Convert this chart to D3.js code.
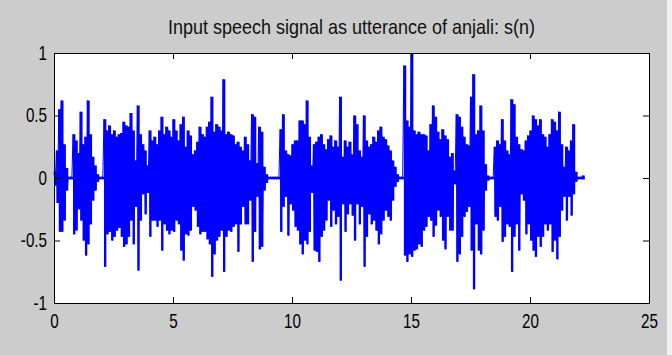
<!DOCTYPE html>
<html>
<head>
<meta charset="utf-8">
<script src="https://cdn.jsdelivr.net/npm/d3@7"></script>
<style>
  html, body { margin: 0; padding: 0; background: #cccccc; }
  svg { display: block; }
</style>
</head>
<body>
<script>
// chart text and ticks
const chartTitle = "Input speech signal as utterance of anjali: s(n)";
const xTicks = [0, 5, 10, 15, 20, 25];
const yTicks = [-1, -0.5, 0, 0.5, 1];

// envelope of the speech signal in 0.1 s bins
const times = [
  0.0, 0.1, 0.2, 0.3, 0.4, 0.5, 0.6, 0.7, 0.8, 0.9,
  1.0, 1.1, 1.2, 1.3, 1.4, 1.5, 1.6, 1.7, 1.8, 1.9,
  2.0, 2.1, 2.2, 2.3, 2.4, 2.5, 2.6, 2.7, 2.8, 2.9,
  3.0, 3.1, 3.2, 3.3, 3.4, 3.5, 3.6, 3.7, 3.8, 3.9,
  4.0, 4.1, 4.2, 4.3, 4.4, 4.5, 4.6, 4.7, 4.8, 4.9,
  5.0, 5.1, 5.2, 5.3, 5.4, 5.5, 5.6, 5.7, 5.8, 5.9,
  6.0, 6.1, 6.2, 6.3, 6.4, 6.5, 6.6, 6.7, 6.8, 6.9,
  7.0, 7.1, 7.2, 7.3, 7.4, 7.5, 7.6, 7.7, 7.8, 7.9,
  8.0, 8.1, 8.2, 8.3, 8.4, 8.5, 8.6, 8.7, 8.8, 8.9,
  9.0, 9.1, 9.2, 9.3, 9.4, 9.5, 9.6, 9.7, 9.8, 9.9,
  10.0, 10.1, 10.2, 10.3, 10.4, 10.5, 10.6, 10.7, 10.8, 10.9,
  11.0, 11.1, 11.2, 11.3, 11.4, 11.5, 11.6, 11.7, 11.8, 11.9,
  12.0, 12.1, 12.2, 12.3, 12.4, 12.5, 12.6, 12.7, 12.8, 12.9,
  13.0, 13.1, 13.2, 13.3, 13.4, 13.5, 13.6, 13.7, 13.8, 13.9,
  14.0, 14.1, 14.2, 14.3, 14.4, 14.5, 14.6, 14.7, 14.8, 14.9,
  15.0, 15.1, 15.2, 15.3, 15.4, 15.5, 15.6, 15.7, 15.8, 15.9,
  16.0, 16.1, 16.2, 16.3, 16.4, 16.5, 16.6, 16.7, 16.8, 16.9,
  17.0, 17.1, 17.2, 17.3, 17.4, 17.5, 17.6, 17.7, 17.8, 17.9,
  18.0, 18.1, 18.2, 18.3, 18.4, 18.5, 18.6, 18.7, 18.8, 18.9,
  19.0, 19.1, 19.2, 19.3, 19.4, 19.5, 19.6, 19.7, 19.8, 19.9,
  20.0, 20.1, 20.2, 20.3, 20.4, 20.5, 20.6, 20.7, 20.8, 20.9,
  21.0, 21.1, 21.2, 21.3, 21.4, 21.5, 21.6, 21.7, 21.8, 21.9,
  22.0, 22.1, 22.2
];
const upper = [
  0.05, 0.22, 0.55, 0.62, 0.27, 0.08, 0.01, 0.01, 0.35, 0.30,
  0.20, 0.53, 0.27, 0.33, 0.62, 0.35, 0.17, 0.10, 0.03, 0.01,
  0.01, 0.47, 0.38, 0.42, 0.35, 0.38, 0.33, 0.35, 0.36, 0.45,
  0.42, 0.41, 0.52, 0.38, 0.14, 0.58, 0.35, 0.27, 0.22, 0.10,
  0.38, 0.30, 0.33, 0.27, 0.38, 0.49, 0.35, 0.41, 0.38, 0.33,
  0.47, 0.38, 0.30, 0.43, 0.49, 0.25, 0.38, 0.34, 0.19, 0.22,
  0.29, 0.41, 0.35, 0.33, 0.41, 0.45, 0.65, 0.37, 0.43, 0.41,
  0.38, 0.79, 0.35, 0.37, 0.35, 0.34, 0.27, 0.29, 0.25, 0.22,
  0.33, 0.27, 0.14, 0.51, 0.49, 0.12, 0.41, 0.37, 0.09, 0.03,
  0.01, 0.01, 0.01, 0.01, 0.01, 0.39, 0.51, 0.22, 0.19, 0.18,
  0.27, 0.30, 0.30, 0.46, 0.46, 0.43, 0.62, 0.33, 0.10, 0.27,
  0.29, 0.33, 0.35, 0.27, 0.23, 0.31, 0.34, 0.25, 0.30, 0.25,
  0.65, 0.17, 0.30, 0.25, 0.29, 0.19, 0.50, 0.43, 0.22, 0.17,
  0.50, 0.30, 0.25, 0.27, 0.33, 0.29, 0.38, 0.41, 0.33, 0.31,
  0.26, 0.22, 0.14, 0.09, 0.03, 0.01, 0.01, 0.90, 0.46, 0.41,
  1.00, 0.38, 0.35, 0.37, 0.35, 0.35, 0.34, 0.22, 0.43, 0.58,
  0.49, 0.37, 0.31, 0.39, 0.34, 0.31, 0.17, 0.20, 0.06, 0.51,
  0.49, 0.41, 0.33, 0.27, 0.26, 0.65, 0.83, 0.35, 0.38, 0.58,
  0.38, 0.11, 0.02, 0.01, 0.01, 0.25, 0.30, 0.27, 0.47, 0.30,
  0.22, 0.19, 0.63, 0.59, 0.33, 0.27, 0.23, 0.22, 0.30, 0.34,
  0.38, 0.50, 0.47, 0.42, 0.47, 0.35, 0.33, 0.25, 0.35, 0.47,
  0.45, 0.38, 0.53, 0.27, 0.09, 0.25, 0.22, 0.30, 0.43, 0.05,
  0.01, 0.01, 0.02
];
const lower = [
  -0.06, -0.20, -0.43, -0.43, -0.34, -0.10, -0.01, -0.01, -0.45, -0.42,
  -0.25, -0.34, -0.50, -0.62, -0.53, -0.37, -0.18, -0.10, -0.03, -0.01,
  -0.01, -0.71, -0.45, -0.43, -0.50, -0.47, -0.42, -0.40, -0.47, -0.55,
  -0.53, -0.47, -0.34, -0.53, -0.23, -0.74, -0.34, -0.13, -0.29, -0.12,
  -0.47, -0.34, -0.34, -0.39, -0.34, -0.58, -0.37, -0.42, -0.45, -0.42,
  -0.43, -0.34, -0.37, -0.58, -0.66, -0.45, -0.46, -0.42, -0.23, -0.26,
  -0.39, -0.45, -0.43, -0.43, -0.49, -0.53, -0.79, -0.61, -0.50, -0.47,
  -0.42, -0.75, -0.47, -0.42, -0.43, -0.39, -0.37, -0.59, -0.37, -0.23,
  -0.37, -0.37, -0.18, -0.67, -0.43, -0.15, -0.57, -0.55, -0.10, -0.04,
  -0.01, -0.01, -0.01, -0.01, -0.01, -0.43, -0.23, -0.15, -0.46, -0.21,
  -0.26, -0.39, -0.42, -0.53, -0.61, -0.50, -0.53, -0.43, -0.12, -0.58,
  -0.59, -0.67, -0.47, -0.42, -0.34, -0.18, -0.39, -0.26, -0.37, -0.31,
  -0.82, -0.21, -0.43, -0.29, -0.21, -0.30, -0.50, -0.21, -0.37, -0.23,
  -0.71, -0.47, -0.29, -0.37, -0.34, -0.42, -0.53, -0.45, -0.34, -0.26,
  -0.31, -0.34, -0.18, -0.07, -0.03, -0.01, -0.01, -0.62, -0.67, -0.61,
  -0.63, -0.58, -0.57, -0.53, -0.55, -0.42, -0.39, -0.31, -0.34, -0.47,
  -0.38, -0.26, -0.31, -0.50, -0.57, -0.31, -0.42, -0.42, -0.05, -0.67,
  -0.61, -0.47, -0.31, -0.27, -0.23, -0.58, -0.89, -0.37, -0.58, -0.61,
  -0.42, -0.10, -0.02, -0.01, -0.01, -0.31, -0.34, -0.23, -0.51, -0.47,
  -0.37, -0.39, -0.75, -0.47, -0.37, -0.58, -0.13, -0.18, -0.45, -0.37,
  -0.50, -0.58, -0.63, -0.47, -0.55, -0.47, -0.37, -0.42, -0.37, -0.59,
  -0.50, -0.65, -0.47, -0.26, -0.15, -0.34, -0.15, -0.30, -0.13, -0.03,
  -0.01, -0.01, -0.01
];

/** drawChart = builds the MATLAB-like figure: grey window, white axes, blue waveform. */
function drawChart() {
    const width = 672, height = 355;
    const margin = {top: 53, right: 23, bottom: 52, left: 54};
    const binWidth = 0.1;

    const svg = d3.select("body").append("svg")
        .attr("width", width)
        .attr("height", height);

    svg.append("rect").attr("width", width).attr("height", height).attr("fill", "#cccccc");
    // thin light strip on the right edge of the screenshot
    svg.append("rect").attr("x", width - 5).attr("width", 5).attr("height", height).attr("fill", "#f2f2f2");

    const x = d3.scaleLinear().domain([0, 25]).range([margin.left, width - margin.right]);
    const y = d3.scaleLinear().domain([-1, 1]).range([height - margin.bottom, margin.top]);

    //white axes area
    svg.append("rect")
        .attr("x", x(0)).attr("y", y(1))
        .attr("width", x(25) - x(0)).attr("height", y(-1) - y(1))
        .attr("fill", "#ffffff");

    //solid body of the waveform: one column per bin, from its min to its max
    const bins = times.map((t, i) => ({t: t, hi: upper[i], lo: lower[i]}));
    bins.push({t: times[times.length - 1] + binWidth, hi: 0.005, lo: -0.005});

    const body = d3.area()
        .curve(d3.curveStepAfter)
        .x(d => x(d.t))
        .y0(d => y(d.lo))
        .y1(d => y(d.hi));
    svg.append("path")
        .datum(bins)
        .attr("d", body)
        .attr("fill", "#0000ff");

    //thin oscillating trace on top so the edges read as a signal
    const pts = [];
    times.forEach((t, i) => {
        pts.push([t, upper[i]]);
        pts.push([t + binWidth / 2, lower[i]]);
    });
    pts.push([times[times.length - 1] + binWidth, 0]);

    const line = d3.line().x(d => x(d[0])).y(d => y(d[1]));
    svg.append("path")
        .datum(pts)
        .attr("d", line)
        .attr("fill", "none")
        .attr("stroke", "#0000ff")
        .attr("stroke-width", 1);

    const tickLen = 6;
    const font = "'Liberation Sans', Arial, sans-serif";

    //axes with inward ticks on all four sides
    const bottom = svg.append("g").attr("transform", `translate(0,${y(-1)})`)
        .call(d3.axisBottom(x).tickValues(xTicks).tickSizeInner(-tickLen).tickSizeOuter(0).tickPadding(11).tickFormat(d3.format("d")));
    const top = svg.append("g").attr("transform", `translate(0,${y(1)})`)
        .call(d3.axisTop(x).tickValues(xTicks).tickSizeInner(-tickLen).tickSizeOuter(0).tickFormat(""));
    const left = svg.append("g").attr("transform", `translate(${x(0)},0)`)
        .call(d3.axisLeft(y).tickValues(yTicks).tickSizeInner(-tickLen).tickSizeOuter(0).tickPadding(7).tickFormat(d => String(d)));
    const right = svg.append("g").attr("transform", `translate(${x(25)},0)`)
        .call(d3.axisRight(y).tickValues(yTicks).tickSizeInner(-tickLen).tickSizeOuter(0).tickFormat(""));

    [bottom, top, left, right].forEach(g => {
        g.select(".domain").attr("stroke", "#000").attr("stroke-width", 1);
        g.selectAll(".tick line").attr("stroke", "#000");
    });

    bottom.selectAll(".tick text")
        .attr("font-family", font).attr("font-size", 20).attr("fill", "#000")
        .attr("transform", "scale(0.76,1)");
    left.selectAll(".tick text")
        .attr("font-family", font).attr("font-size", 20).attr("fill", "#000")
        .attr("x", -7 / 0.76)
        .attr("transform", "scale(0.76,1)");

    //title
    svg.append("text")
        .attr("x", (x(0) + x(25)) / 2)
        .attr("y", 34)
        .attr("text-anchor", "middle")
        .attr("font-family", font)
        .attr("font-size", 21)
        .attr("fill", "#111")
        .attr("textLength", 367)
        .attr("lengthAdjust", "spacingAndGlyphs")
        .text(chartTitle);
}

drawChart();
</script>
</body>
</html>
